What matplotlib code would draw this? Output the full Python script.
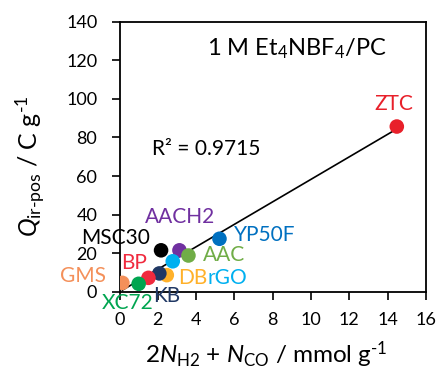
import numpy as np
import matplotlib.pyplot as plt

plt.rcParams['font.family'] = ['Lato', 'DejaVu Sans']
plt.rcParams['mathtext.fontset'] = 'custom'
plt.rcParams['mathtext.rm'] = 'Lato'
plt.rcParams['mathtext.it'] = 'Lato:italic'

samples = ['ZTC', 'YP50F', 'AACH2', 'MSC30', 'AAC', 'rGO', 'DB', 'KB', 'BP', 'XC72', 'GMS']
x_vals = [14.48, 5.22, 3.13, 2.17, 3.6, 2.78, 2.47, 2.08, 1.51, 1.0, 0.15]
y_vals = [85.7, 27.4, 21.4, 21.4, 18.7, 15.7, 8.5, 9.4, 7.1, 4.0, 4.5]
colors = ['#E8202A', '#0070C0', '#7030A0', '#000000', '#70AD47', '#00B0F0',
          '#FFB12A', '#203864', '#F02A3E', '#00A550', '#F4905A']
# label anchors (left, vertical centre) in data units
label_x = [13.3, 6.0, 1.33, -1.98, 4.35, 4.57, 3.06, 1.75, 0.11, -0.93, -3.1]
label_y = [97.5, 29.6, 38.7, 27.8, 19.2, 7.0, 7.0, -2.3, 14.8, -6.0, 8.0]
r2_text = 'R² = 0.9715'

fig = plt.figure(figsize=(4.4, 3.69), dpi=100)
ax = fig.add_axes([0.2716, 0.21, 0.6964, 0.7304])

# trend line
k, b = np.polyfit(x_vals, y_vals, 1)
xl = np.array([min(x_vals), max(x_vals)])
ax.plot(xl, k * xl + b, color='black', lw=1.2, zorder=2)

ax.scatter(x_vals, y_vals, s=110, c=colors, edgecolors='none', zorder=3)

for name, lx, ly, c in zip(samples, label_x, label_y, colors):
    ax.text(lx, ly, name, color=c, fontsize=15, ha='left', va='center',
            clip_on=False, zorder=4)

ax.text(1.68, 74, r2_text, fontsize=15, ha='left', va='center')
ax.text(9.23, 126, r'1 M Et$_4$NBF$_4$/PC', fontsize=17, ha='center', va='center')

ax.set_xlim(0, 16)
ax.set_ylim(0, 140)
ax.set_xticks(range(0, 17, 2))
ax.set_yticks(range(0, 141, 20))
ax.tick_params(direction='out', length=6, width=1.2, labelsize=13)
ax.tick_params(axis='x', pad=9)
ax.tick_params(axis='y', pad=10)
for sp in ax.spines.values():
    sp.set_linewidth(1.3)

ax.set_xlabel(r'2$N_{\mathrm{H2}}$ + $N_{\mathrm{CO}}$ / mmol g$^{\text{-}1}$', fontsize=17.5)
ax.set_ylabel(r'$Q_{\mathrm{ir\text{-}pos}}$ / C g$^{\text{-}1}$', fontsize=18)
ax.xaxis.set_label_coords(0.478, -0.235)
ax.xaxis.label.set_va('center')
ax.yaxis.set_label_coords(-0.292, 0.463)
ax.yaxis.label.set_va('center')

fig.savefig('out.png', dpi=100)
